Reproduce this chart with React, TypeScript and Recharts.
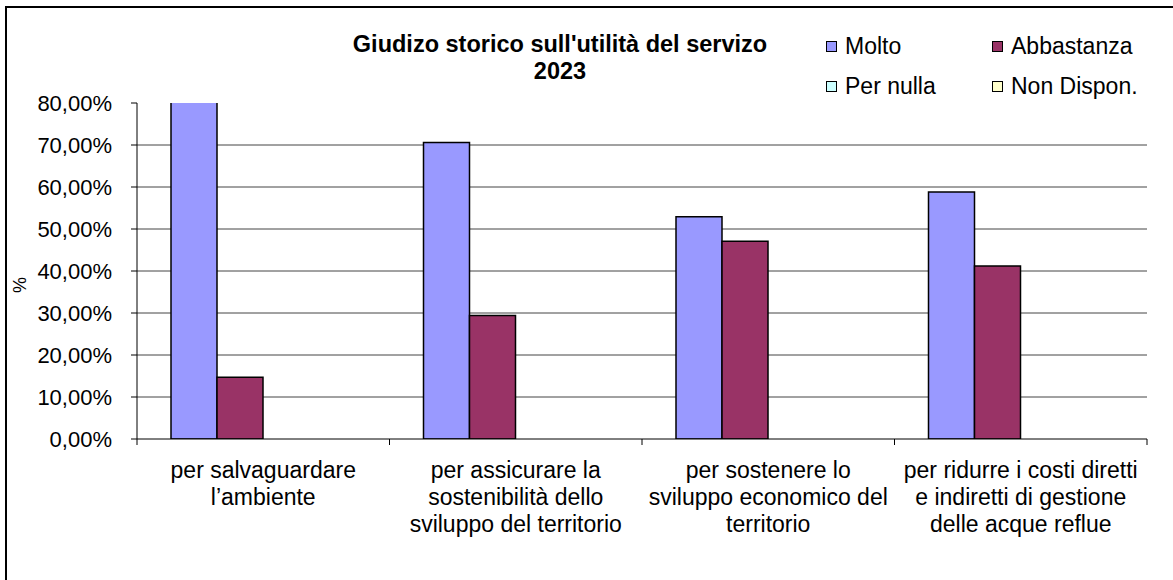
import React from 'react';
import { BarChart, Bar, XAxis, YAxis, CartesianGrid, Legend, Label } from 'recharts';

const CATEGORIES = [
  'per salvaguardare l’ambiente',
  'per assicurare la sostenibilità dello sviluppo del territorio',
  'per sostenere lo sviluppo economico del territorio',
  'per ridurre i costi diretti e indiretti di gestione delle acque reflue',
];
const LABEL_LINES = [
  ['per salvaguardare', 'l’ambiente'],
  ['per assicurare la', 'sostenibilità dello', 'sviluppo del territorio'],
  ['per sostenere lo', 'sviluppo economico del', 'territorio'],
  ['per ridurre i costi diretti', 'e indiretti di gestione', 'delle acque reflue'],
];
const MOLTO = [85.3, 70.6, 52.9, 58.8];
const ABBASTANZA = [14.7, 29.4, 47.1, 41.2];
const PER_NULLA = [0, 0, 0, 0];
const NON_DISPON = [0, 0, 0, 0];
const Y_TICKS = [0, 10, 20, 30, 40, 50, 60, 70, 80];
const GRID_VALUES = [10, 20, 30, 40, 50, 60, 70];
const TITLE = ['Giudizo storico sull\'utilità del servizo', '2023'];

const SERIES = [
  { key: 'molto', name: 'Molto', color: '#9999FF' },
  { key: 'abbastanza', name: 'Abbastanza', color: '#993366' },
  { key: 'perNulla', name: 'Per nulla', color: '#CCFFFF' },
  { key: 'nonDispon', name: 'Non Dispon.', color: '#FFFFCC' },
];

const data = CATEGORIES.map((c, i) => ({
  cat: c,
  molto: MOLTO[i],
  abbastanza: ABBASTANZA[i],
  perNulla: PER_NULLA[i],
  nonDispon: NON_DISPON[i],
}));

const FONT = '"Liberation Sans", Arial, sans-serif';

const fmt = (v: number) => `${v.toFixed(2).replace('.', ',')}%`;

const XTick = (props: any) => {
  const { x, y, payload, index, width } = props;
  const n = CATEGORIES.length;
  const half =
    payload && typeof payload.offset === 'number' && payload.offset > 0
      ? payload.offset
      : (typeof width === 'number' && width > 0 ? width : 1010) / n / 2;
  const lines = LABEL_LINES[index] || [];
  return (
    <g>
      <line x1={x - half} x2={x - half} y1={y} y2={y + 6} stroke="#000" strokeWidth={1} />
      {index === n - 1 && (
        <line x1={x + half} x2={x + half} y1={y} y2={y + 6} stroke="#000" strokeWidth={1} />
      )}
      <text x={x} y={y} textAnchor="middle" fontSize={23} fill="#000" fontFamily={FONT}>
        {lines.map((l, i) => (
          <tspan key={i} x={x} y={y + 39 + i * 27}>
            {l}
          </tspan>
        ))}
      </text>
    </g>
  );
};

const LegendContent = (props: any) => {
  const payload = [...(props.payload || [])];
  const order = (p: any) => {
    const i = SERIES.findIndex((s) => s.name === p.value || s.key === p.dataKey);
    return i < 0 ? 99 : i;
  };
  payload.sort((a: any, b: any) => order(a) - order(b));
  return (
    <div
      style={{
        display: 'grid',
        gridTemplateColumns: '166px 166px',
        gridAutoRows: '40px',
        fontFamily: FONT,
        fontSize: 23,
        color: '#000',
      }}
    >
      {payload.map((p: any, i: number) => (
        <div key={i} style={{ display: 'flex', alignItems: 'center', whiteSpace: 'nowrap' }}>
          <span
            style={{
              display: 'inline-block',
              width: 9,
              height: 9,
              background: p.color,
              border: '1px solid #000',
              marginRight: 8,
            }}
          />
          <span>{p.value}</span>
        </div>
      ))}
    </div>
  );
};

export default function App() {
  return (
    <div style={{ position: 'fixed', left: 0, top: 0, width: 1173, height: 580, background: '#fff', overflow: 'hidden' }}>
      <div
        style={{
          position: 'absolute',
          left: 310,
          top: 31,
          width: 500,
          textAlign: 'center',
          fontFamily: FONT,
          fontWeight: 'bold',
          fontSize: 23.5,
          lineHeight: '27px',
          color: '#000',
          whiteSpace: 'nowrap',
        }}
      >
        {TITLE.map((t, i) => (
          <div key={i}>{t}</div>
        ))}
      </div>
      <div style={{ position: 'absolute', left: 0, top: 0 }}>
        <BarChart
          width={1173}
          height={580}
          data={data}
          margin={{ top: 103, right: 26, bottom: 0, left: 37 }}
          barCategoryGap={34}
          barGap={0}
          style={{ fontFamily: FONT }}
        >
          <CartesianGrid
            vertical={false}
            stroke="#444"
            strokeWidth={1}
            horizontalValues={GRID_VALUES}
          />
          <XAxis
            dataKey="cat"
            interval={0}
            height={141}
            tickSize={0}
            tickMargin={0}
            tickLine={false}
            axisLine={{ stroke: '#000', strokeWidth: 1 }}
            tick={<XTick />}
          />
          <YAxis
            width={100}
            domain={[0, 80]}
            ticks={Y_TICKS}
            allowDataOverflow
            interval={0}
            tickFormatter={fmt}
            tickSize={6}
            tickMargin={19}
            tickLine={{ stroke: '#000' }}
            axisLine={{ stroke: '#000', strokeWidth: 1 }}
            tick={{ fontSize: 22, fill: '#000', fontFamily: FONT }}
          >
            <Label
              content={() => (
                <text
                  x={20}
                  y={285}
                  transform="rotate(-90 20 285)"
                  textAnchor="middle"
                  dominantBaseline="central"
                  fontSize={18}
                  fill="#000"
                  fontFamily={FONT}
                >
                  %
                </text>
              )}
            />
          </YAxis>
          <Legend
            verticalAlign="middle"
            align="center"
            layout="horizontal"
            itemSorter={null as any}
            content={<LegendContent />}
            wrapperStyle={{ left: 826, top: 26, width: 340, height: 80 }}
          />
          {SERIES.map((s) => (
            <Bar
              key={s.key}
              dataKey={s.key}
              name={s.name}
              fill={s.color}
              stroke="#000"
              strokeWidth={1.5}
              isAnimationActive={false}
            />
          ))}
        </BarChart>
      </div>
      <div style={{ position: 'absolute', zIndex: 10, left: 5, top: 6, width: 2, height: 574, background: '#000' }} />
      <div style={{ position: 'absolute', zIndex: 10, left: 5, top: 6, width: 1168, height: 2, background: '#000' }} />
    </div>
  );
}
